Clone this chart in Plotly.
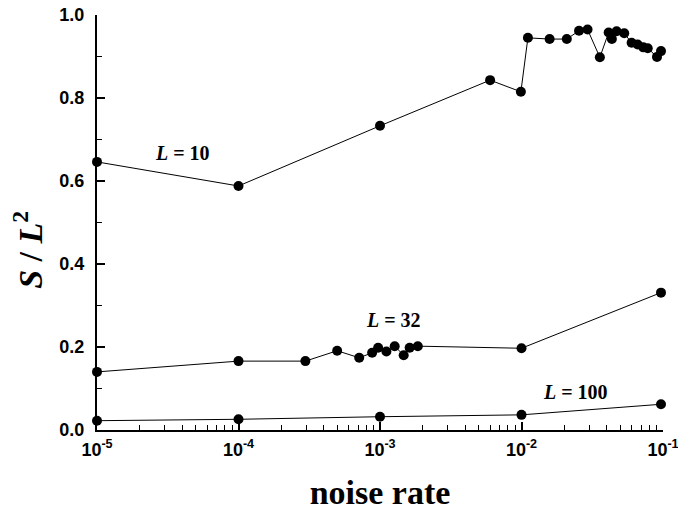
import plotly.graph_objects as go

# L = 10
x_L10 = [1e-5, 1e-4, 1e-3, 0.0060, 0.0099, 0.0111, 0.0158, 0.0209, 0.0255, 0.0293,
         0.0358, 0.0413, 0.0435, 0.0470, 0.0532, 0.0600, 0.0662, 0.0726, 0.0780,
         0.0907, 0.0968]
y_L10 = [0.646, 0.588, 0.733, 0.843, 0.815, 0.945, 0.942, 0.942, 0.962, 0.965,
         0.898, 0.958, 0.942, 0.961, 0.956, 0.933, 0.929, 0.922, 0.920,
         0.899, 0.913]

# L = 32
x_L32 = [1e-5, 1e-4, 2.97e-4, 4.98e-4, 7.13e-4, 8.8e-4, 9.7e-4, 1.11e-3, 1.27e-3,
         1.47e-3, 1.62e-3, 1.85e-3, 1e-2, 0.0968]
y_L32 = [0.140, 0.166, 0.166, 0.191, 0.174, 0.186, 0.198, 0.189, 0.202,
         0.180, 0.198, 0.202, 0.197, 0.331]

# L = 100
x_L100 = [1e-5, 1e-4, 1e-3, 1e-2, 0.0968]
y_L100 = [0.0224, 0.0258, 0.032, 0.0365, 0.062]

x_tickvals = [1e-5, 1e-4, 1e-3, 1e-2, 1e-1]
x_ticktext = ["10<sup>-5</sup>", "10<sup>-4</sup>", "10<sup>-3</sup>",
              "10<sup>-2</sup>", "10<sup>-1</sup>"]

series = [(x_L10, y_L10), (x_L32, y_L32), (x_L100, y_L100)]

fig = go.Figure()
for xs, ys in series:
    fig.add_trace(go.Scatter(
        x=xs, y=ys, mode="lines+markers",
        line=dict(color="black", width=1),
        marker=dict(color="black", size=10),
        cliponaxis=False, showlegend=False,
    ))

label_font = dict(family="Liberation Serif", size=20, color="black")
labels = [(-4.393, 0.667, "<b><i>L</i> = 10</b>"),
          (-2.907, 0.265, "<b><i>L</i> = 32</b>"),
          (-1.616, 0.092, "<b><i>L</i> = 100</b>")]
for ax, ay, txt in labels:
    fig.add_annotation(x=ax, y=ay, xref="x", yref="y", text=txt,
                       showarrow=False, font=label_font)

# y-axis title (placed slightly below the axis centre, as in the original)
fig.add_annotation(x=-0.122, y=0.434, xref="paper", yref="paper",
                   text="<b><i>S</i> / <i>L</i><sup>2</sup></b>", textangle=-90,
                   showarrow=False, xanchor="center", yanchor="middle",
                   font=dict(family="Liberation Serif", size=34, color="black"))

fig.update_layout(
    width=678, height=511,
    margin=dict(l=97, r=15, t=15, b=81),
    paper_bgcolor="white", plot_bgcolor="white",
    xaxis=dict(
        type="log", range=[-5, -1], automargin=False,
        tickvals=x_tickvals, ticktext=x_ticktext,
        ticklabeloverflow="allow",
        ticks="inside", ticklen=8, tickwidth=1.5, tickcolor="black",
        minor=dict(ticks="inside", ticklen=5, tickwidth=1.2, tickcolor="black",
                   dtick="D1", showgrid=False),
        showline=True, linewidth=2, linecolor="black",
        showgrid=False, zeroline=False,
        ticklabelstandoff=2,
        tickfont=dict(family="Liberation Sans", size=18, color="black", weight="bold"),
        title=dict(text="<b>noise rate</b>", standoff=22,
                   font=dict(family="Liberation Serif", size=34, color="black")),
    ),
    yaxis=dict(
        range=[0, 1], dtick=0.2, tickformat=".1f", automargin=False,
        ticklabeloverflow="allow",
        ticks="inside", ticklen=8, tickwidth=1.5, tickcolor="black",
        minor=dict(ticks="inside", ticklen=5, tickwidth=1.2, tickcolor="black",
                   dtick=0.1, showgrid=False),
        showline=True, linewidth=2, linecolor="black",
        showgrid=False, zeroline=False,
        ticklabelstandoff=7,
        tickfont=dict(family="Liberation Sans", size=18, color="black", weight="bold"),
    ),
)

fig.write_html("out.html", config={"displayModeBar": False},
               post_script="document.body.style.margin='0';")
